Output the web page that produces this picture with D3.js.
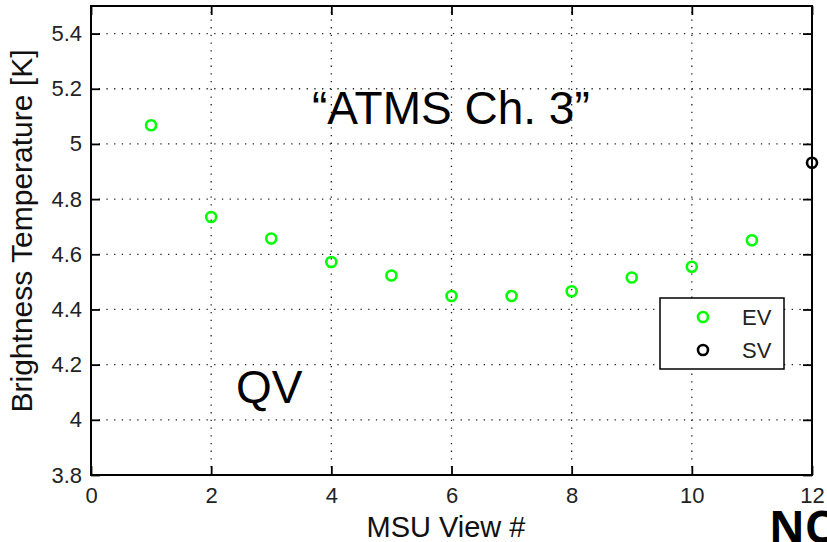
<!doctype html>
<meta charset='utf-8'>
<style>
  body { margin: 0; background: #fff; }
  text { font-family: Arial, 'Liberation Sans', sans-serif; }
</style>
<body>
<script src='https://cdn.jsdelivr.net/npm/d3@7'></script>
<script>

// MSU view positions and brightness temperatures
var evViews = [1, 2, 3, 4, 5, 6, 7, 8, 9, 10, 11];
var evTemps = [5.068, 4.735, 4.657, 4.572, 4.523, 4.449, 4.449, 4.466, 4.516, 4.555, 4.651];
var svViews = [12];
var svTemps = [4.932];
var xTicks = [0, 2, 4, 6, 8, 10, 12];
var yTicks = [3.8, 4, 4.2, 4.4, 4.6, 4.8, 5, 5.2, 5.4];
var legendNames = ['EV', 'SV'];
var legendColors = ['#00ff00', '#000'];

var width = 827,
    height = 542,
    margin = {top: 6, right: 15, bottom: 67, left: 91};

var svg = d3.select('body').append('svg')
    .attr('width', width)
    .attr('height', height);

var x = d3.scaleLinear().domain([0, 12]).range([margin.left, width - margin.right]);
var y = d3.scaleLinear().domain([3.8, 5.5]).range([height - margin.bottom, margin.top]);

var gridColor = '#222';

// dotted grid
svg.append('g').selectAll('line')
  .data(xTicks.slice(1, -1))
  .enter().append('line')
    .attr('x1', d => x(d)).attr('x2', d => x(d))
    .attr('y1', y.range()[0]).attr('y2', y.range()[1])
    .attr('stroke', gridColor).attr('stroke-width', 1.3)
    .attr('stroke-dasharray', '1.3,6.4');

svg.append('g').selectAll('line')
  .data(yTicks.slice(1))
  .enter().append('line')
    .attr('y1', d => y(d)).attr('y2', d => y(d))
    .attr('x1', x.range()[0]).attr('x2', x.range()[1])
    .attr('stroke', gridColor).attr('stroke-width', 1.3)
    .attr('stroke-dasharray', '1.3,6.4');

// axes: ticks pointing inward on all four sides
var tickStyle = function(g) {
  g.select('.domain').remove();
  g.selectAll('.tick line').attr('stroke', '#000').attr('stroke-width', 1.8);
  g.selectAll('.tick text')
    .attr('fill', '#222')
    .style('font-size', '22px')
    .style('font-family', 'Arial, "Liberation Sans", sans-serif');
};

svg.append('g')
  .attr('transform', 'translate(0,' + y.range()[0] + ')')
  .call(d3.axisBottom(x).tickValues(xTicks).tickSize(-9).tickPadding(12).tickFormat(d3.format('d')))
  .call(tickStyle);

svg.append('g')
  .attr('transform', 'translate(0,' + y.range()[1] + ')')
  .call(d3.axisTop(x).tickValues(xTicks).tickSize(-9).tickFormat(''))
  .call(tickStyle);

svg.append('g')
  .attr('transform', 'translate(' + x.range()[0] + ',0)')
  .call(d3.axisLeft(y).tickValues(yTicks).tickSize(-9).tickPadding(9).tickFormat(d => d3.format('')(+d.toFixed(1))))
  .call(tickStyle);

svg.append('g')
  .attr('transform', 'translate(' + x.range()[1] + ',0)')
  .call(d3.axisRight(y).tickValues(yTicks).tickSize(-9).tickFormat(''))
  .call(tickStyle);

// frame
svg.append('rect')
  .attr('x', x.range()[0]).attr('y', y.range()[1])
  .attr('width', x.range()[1] - x.range()[0])
  .attr('height', y.range()[0] - y.range()[1])
  .attr('fill', 'none').attr('stroke', '#000').attr('stroke-width', 2);

// points
svg.append('g').selectAll('circle')
  .data(evViews)
  .enter().append('circle')
    .attr('cx', d => x(d))
    .attr('cy', (d, i) => y(evTemps[i]))
    .attr('r', 5)
    .attr('fill', 'none').attr('stroke', legendColors[0]).attr('stroke-width', 2.6);

svg.append('g').selectAll('circle')
  .data(svViews)
  .enter().append('circle')
    .attr('cx', d => x(d))
    .attr('cy', (d, i) => y(svTemps[i]))
    .attr('r', 5)
    .attr('fill', 'none').attr('stroke', legendColors[1]).attr('stroke-width', 2.6);

// legend
var legend = svg.append('g').attr('transform', 'translate(660,298)');
legend.append('rect')
  .attr('width', 124).attr('height', 71)
  .attr('fill', '#fff').attr('stroke', '#000').attr('stroke-width', 1.5);
legendNames.forEach(function(name, i) {
  legend.append('circle')
    .attr('cx', 43).attr('cy', 19 + i * 33).attr('r', 5)
    .attr('fill', 'none').attr('stroke', legendColors[i]).attr('stroke-width', 2.6);
  legend.append('text')
    .attr('x', 82).attr('y', 19 + i * 33).attr('dy', '0.35em')
    .attr('fill', '#222').style('font-size', '22px')
    .text(name);
});

// axis labels
svg.append('text')
  .attr('x', 446).attr('y', 537)
  .attr('text-anchor', 'middle')
  .attr('fill', '#111')
  .style('font-size', '29px')
  .text('MSU View #');

svg.append('text')
  .attr('transform', 'translate(32,231) rotate(-90)')
  .attr('text-anchor', 'middle')
  .attr('fill', '#111')
  .style('font-size', '30px')
  .text('Brightness Temperature [K]');

// annotations
svg.append('text')
  .attr('x', 312).attr('y', 124)
  .style('font-size', '46px')
  .text('\u201CATMS Ch. 3\u201D');

svg.append('text')
  .attr('x', 236).attr('y', 403)
  .style('font-size', '46px')
  .text('QV');

svg.append('text')
  .attr('x', 769).attr('y', 543)
  .style('font-size', '44px')
  .style('font-weight', 'bold')
  .style('font-family', '"Open Sans", sans-serif')
  .text('NC');

</script>
</body>
